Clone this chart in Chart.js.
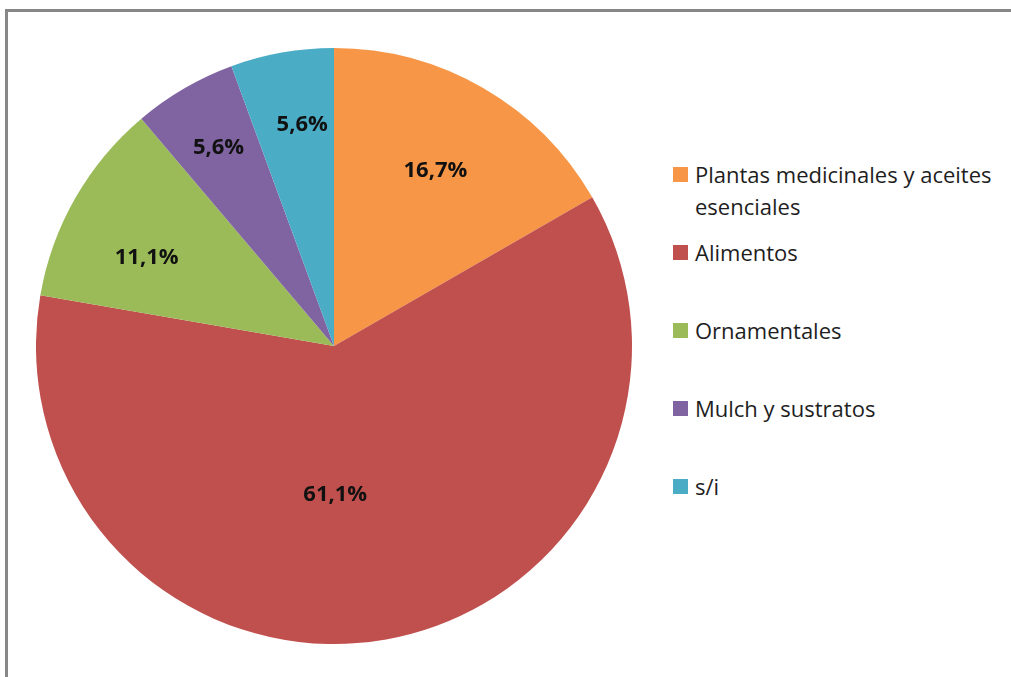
<!DOCTYPE html>
<html lang="es">
<head>
<meta charset="utf-8">
<title>Distribución por tipo de producto</title>
<script src="https://cdn.jsdelivr.net/npm/chart.js@4.4.1/dist/chart.umd.min.js"></script>
<style>
    html, body { margin: 0; padding: 0; background: #fff; overflow: hidden; }
    body { width: 1011px; height: 677px; position: relative; font-family: "Open Sans", Lato, sans-serif; }
    .frame {
        position: absolute; left: 5px; top: 9px; width: 1006px; height: 668px;
        border-top: 3px solid #878787; border-left: 3px solid #878787;
        box-sizing: border-box;
    }
    .pie-box { position: absolute; left: 36px; top: 48px; width: 596px; height: 596px; }
    #legend { position: absolute; left: 0; top: 0; }
    .legend-item { position: absolute; left: 673px; width: 335px; color: #1e1e1e; font-size: 22px; line-height: 32px; white-space: nowrap; }
    .legend-item .swatch { position: absolute; left: 0; top: 9px; width: 15px; height: 15px; }
    .legend-item .txt { position: absolute; left: 22px; top: 0; }
</style>
</head>
<body>
<div class="frame"></div>
<div class="pie-box"><canvas id="pieChart"></canvas></div>
<div id="legend"></div>

<script>
// Data
const categories = ['Plantas medicinales y aceites esenciales', 'Alimentos', 'Ornamentales', 'Mulch y sustratos', 's/i'];
const shares = [16.7, 61.1, 11.1, 5.6, 5.6];
const colors = ['#F79646', '#C0504D', '#9BBB59', '#8064A2', '#4BACC6'];

// Label placement: fraction of radius + angle nudge (deg) per slice
const labelRadius = [0.68, 0.50, 0.695, 0.77, 0.75];
const labelNudge = [0, 9.6, -4.5, 0, 1.9];

const sliceLabels = {
    id: 'sliceLabels',
    afterDatasetsDraw(chart) {
        const ctx = chart.ctx;
        const meta = chart.getDatasetMeta(0);
        ctx.save();
        ctx.font = 'bold 22px "Open Sans", Lato, sans-serif';
        ctx.fillStyle = '#111';
        ctx.textAlign = 'center';
        ctx.textBaseline = 'middle';
        meta.data.forEach((arc, i) => {
            const mid = (arc.startAngle + arc.endAngle) / 2 + labelNudge[i] * Math.PI / 180;
            const r = arc.outerRadius * labelRadius[i];
            const txt = shares[i].toFixed(1).replace('.', ',') + '%';
            ctx.fillText(txt, arc.x + Math.cos(mid) * r, arc.y + Math.sin(mid) * r);
        });
        ctx.restore();
    }
};

const pieChart = new Chart(document.getElementById('pieChart'), {
    type: 'pie',
    data: {
        labels: categories,
        datasets: [{
            data: shares,
            backgroundColor: colors,
            borderWidth: 0
        }]
    },
    options: {
        responsive: true,
        maintainAspectRatio: false,
        animation: false,
        layout: { padding: 0 },
        plugins: {
            legend: { display: false },
            tooltip: { enabled: false }
        }
    },
    plugins: [sliceLabels]
});

// Legend, built from the same arrays
const legendEl = document.getElementById('legend');
const legendFirstY = 174;
const legendStep = 78;
categories.forEach((name, i) => {
    const item = document.createElement('div');
    item.className = 'legend-item';
    item.style.top = (legendFirstY + i * legendStep - 16) + 'px';
    const text = name === categories[0] ? 'Plantas medicinales y aceites<br>esenciales' : name;
    item.innerHTML = `<span class="swatch" style="background:${colors[i]}"></span><span class="txt">${text}</span>`;
    legendEl.appendChild(item);
});
</script>
</body>
</html>
